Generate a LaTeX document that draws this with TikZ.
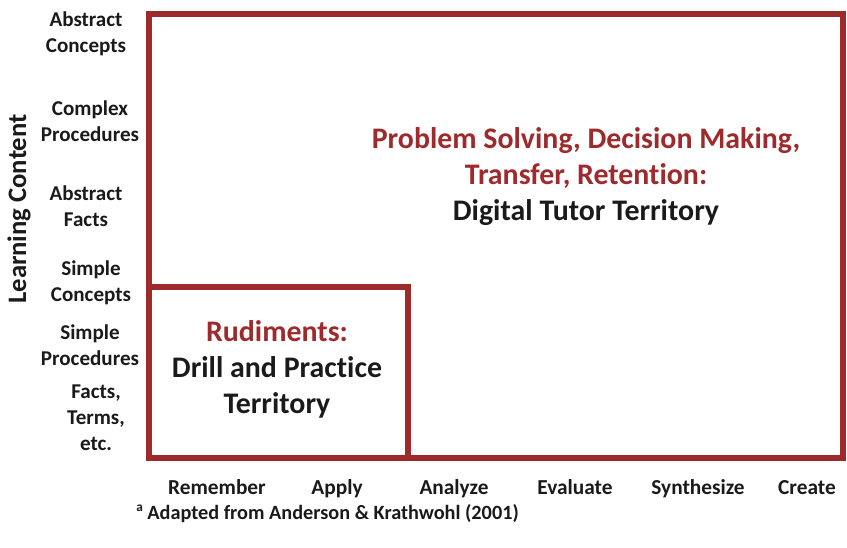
\documentclass[tikz,border=0pt]{standalone}
\usepackage{fontspec}
\setmainfont{Carlito}[Ligatures=NoCommon]
\usepackage{tikz}
\usetikzlibrary{positioning}
\usepackage{xcolor}
\definecolor{tred}{HTML}{9E2A2B}
\definecolor{tink}{HTML}{1A1A1A}

\begin{document}
\begin{tikzpicture}[x=0.75pt, y=-0.75pt, font=\bfseries,
  lvl/.style={text=tink, font=\fontsize{15.8}{19.5}\selectfont\bfseries, align=center, inner sep=0pt},
  task/.style={text=tink, font=\fontsize{16}{18}\selectfont\bfseries, anchor=base, inner sep=0pt},
  zone/.style={align=center, inner sep=0pt, font=\fontsize{22.4}{27}\selectfont\bfseries},
  frame/.style={draw=tred, line width=3.8pt, line join=miter}]
\useasboundingbox (0,0) rectangle (847,547);
% outer and inner territories
\coordinate (tl) at (149,14);
\coordinate (br) at (843,458);
\coordinate (rt) at (408,287);
\draw[frame] (tl) rectangle (br);
\draw[frame] (tl |- rt) rectangle (rt |- br);
% vertical axis
\node[lvl, rotate=90, font=\fontsize{20}{22}\selectfont\bfseries] (ytitle) at (19,209) {Learning Content};
\node[lvl] (c1) at (86,34)  {Abstract\\Concepts};
\node[lvl] (c2) at (90,121) {Complex\\Procedures};
\node[lvl] (c3) at (86,206) {Abstract\\Facts};
\node[lvl] (c4) at (91,283) {Simple\\Concepts};
\node[lvl] (c5) at (90,345) {Simple\\Procedures};
\node[lvl] (c6) at (96,418) {Facts,\\Terms,\\etc.};
% horizontal axis
\node[task] (t1) at (217,494) {Remember};
\node[task] (t2) at (337,494) {Apply};
\node[task] (t3) at (454,494) {Analyze};
\node[task] (t4) at (575,494) {Evaluate};
\node[task] (t5) at (698,494) {Synthesize};
\node[task] (t6) at (807,494) {Create};
% region labels
\node[zone] (rud) at (277,369) {\textcolor{tred}{Rudiments:}\\\textcolor{tink}{Drill and Practice}\\\textcolor{tink}{Territory}};
\node[zone] (dig) at (586,177) {\textcolor{tred}{Problem Solving, Decision Making,}\\\textcolor{tred}{Transfer, Retention:}\\\textcolor{tink}{Digital Tutor Territory}};
% source
\node[task, anchor=base west, font=\fontsize{15.2}{16}\selectfont\bfseries] (src) at (136,519)
  {\raisebox{0.8ex}{\fontsize{10}{10}\selectfont a} Adapted from Anderson \& Krathwohl (2001)};
\end{tikzpicture}
\end{document}
